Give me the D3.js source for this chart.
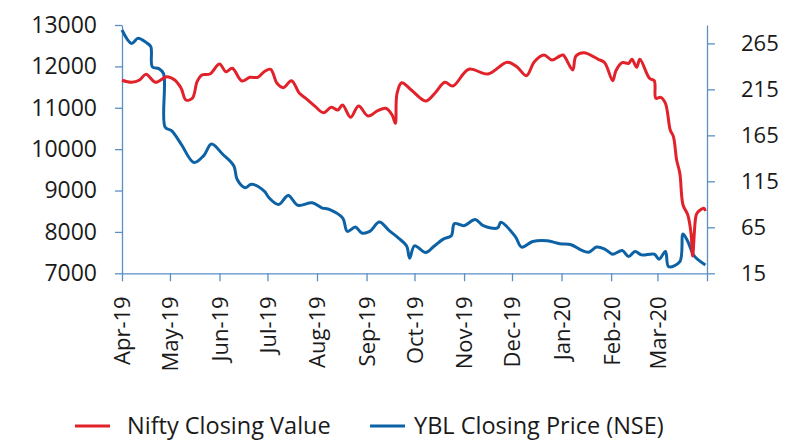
<!DOCTYPE html>
<html>
<head>
<meta charset="utf-8">
<script src="https://cdn.jsdelivr.net/npm/d3@7"></script>
<style>
  html, body { margin: 0; padding: 0; background: #fff; }
  svg { display: block; font-family: "Open Sans", "Noto Sans", sans-serif; }
</style>
</head>
<body>
<svg id="chart" width="786" height="441"></svg>
<script>
// Nifty closing value (left axis)
const niftyDates = ["2019-04-01","2019-04-07","2019-04-12","2019-04-16","2019-04-22","2019-04-29","2019-05-04","2019-05-08","2019-05-11","2019-05-15","2019-05-18","2019-05-21","2019-05-26","2019-06-01","2019-06-05","2019-06-09","2019-06-15","2019-06-20","2019-06-25","2019-06-29","2019-07-03","2019-07-07","2019-07-11","2019-07-16","2019-07-21","2019-07-25","2019-07-31","2019-08-05","2019-08-10","2019-08-14","2019-08-17","2019-08-22","2019-08-27","2019-09-02","2019-09-08","2019-09-13","2019-09-17","2019-09-19","2019-09-20","2019-09-23","2019-09-29","2019-10-08","2019-10-14","2019-10-20","2019-10-25","2019-11-04","2019-11-16","2019-11-28","2019-12-04","2019-12-10","2019-12-15","2019-12-21","2019-12-26","2019-12-31","2020-01-02","2020-01-08","2020-01-10","2020-01-15","2020-01-24","2020-01-28","2020-02-02","2020-02-04","2020-02-08","2020-02-12","2020-02-14","2020-02-17","2020-02-19","2020-02-25","2020-02-28","2020-02-29","2020-03-03","2020-03-06","2020-03-09","2020-03-11","2020-03-13","2020-03-15","2020-03-17","2020-03-20","2020-03-22","2020-03-23","2020-03-25","2020-03-26","2020-03-30","2020-03-31"];
const niftyValues = [11665,11616,11671,11809,11616,11751,11671,11471,11188,11229,11630,11792,11816,12058,11872,11954,11647,11736,11736,11872,11930,11591,11485,11654,11350,11229,11026,10881,11012,10946,11067,10770,11043,10801,10930,10988,10826,10625,11333,11606,11430,11164,11364,11616,11526,11930,11816,12099,11993,11775,12113,12275,12154,12251,12275,11913,12251,12331,12171,12089,11654,11896,12089,12075,12171,11978,12171,11712,11654,11229,11253,11108,10463,10301,9738,9417,8651,8410,7968,7419,8369,8465,8571,8506];

// YBL closing price on NSE (right axis)
const yblDates = ["2019-04-01","2019-04-07","2019-04-11","2019-04-16","2019-04-19","2019-04-20","2019-04-24","2019-04-27","2019-04-28","2019-05-02","2019-05-08","2019-05-16","2019-05-22","2019-05-27","2019-06-03","2019-06-10","2019-06-12","2019-06-17","2019-06-21","2019-06-29","2019-07-02","2019-07-08","2019-07-14","2019-07-20","2019-07-29","2019-08-04","2019-08-09","2019-08-17","2019-08-20","2019-08-25","2019-08-29","2019-09-03","2019-09-09","2019-09-15","2019-09-21","2019-09-26","2019-09-28","2019-10-01","2019-10-08","2019-10-13","2019-10-19","2019-10-24","2019-10-26","2019-11-01","2019-11-08","2019-11-13","2019-11-22","2019-11-24","2019-12-03","2019-12-07","2019-12-14","2019-12-23","2019-12-31","2020-01-07","2020-01-13","2020-01-18","2020-01-23","2020-01-28","2020-02-02","2020-02-08","2020-02-12","2020-02-16","2020-02-20","2020-02-28","2020-03-02","2020-03-06","2020-03-08","2020-03-15","2020-03-17","2020-03-20","2020-03-24","2020-03-31"];
const yblValues = [279.6,265,270.5,266.1,261.4,239.5,237.6,232.1,173.8,170.1,155.5,135.5,142.7,155.5,144.5,131.7,117.2,108.1,111.7,104.4,97.1,89.8,99.6,89,91.7,86.2,84.3,75.2,60.6,65.4,58.8,60.6,70.8,61.6,53.3,44.9,31.4,44.9,37.6,44.1,52.2,55.8,69,66.8,73.4,66.8,64.3,70.4,55.1,43.5,49.6,50.4,47.1,46,40.5,38,43.5,41.3,35.8,39.7,33.2,38.7,35,35.8,30.3,38.7,22.2,27.7,57.7,49.6,33.9,24.1];

const leftTicks = [7000, 8000, 9000, 10000, 11000, 12000, 13000];
const rightTicks = [15, 65, 115, 165, 215, 265];
const seriesNames = ["Nifty Closing Value", "YBL Closing Price (NSE)"];
const seriesColors = ["#e1222b", "#0d62a5"];

const parse = d3.utcParse("%Y-%m-%d");
const nifty = niftyDates.map((d, i) => ({ date: parse(d), value: niftyValues[i] }));
const ybl = yblDates.map((d, i) => ({ date: parse(d), value: yblValues[i] }));

const fontFamily = '"Open Sans", "Noto Sans", sans-serif';
const axisColor = "#5b8fc4";
const svg = d3.select("#chart");

const start = parse("2019-04-01"), end = parse("2020-04-01");
const x = d3.scaleUtc().domain([start, end]).range([122, 707]);
const yL = d3.scaleLinear().domain([7000, 13000]).range([273.3, 25]);
const yR = d3.scaleLinear().domain([15, 285]).range([273.3, 25]);

function styleAxis(size) {
  return g => {
    g.attr("font-family", fontFamily);
    g.select(".domain").attr("stroke", axisColor).attr("stroke-width", 1.3);
    g.selectAll(".tick line").attr("stroke", axisColor).attr("stroke-width", 1.3);
    g.selectAll(".tick text").attr("fill", "#1a1a1a").style("font-size", size + "px");
  };
}

// left axis
svg.append("g").attr("transform", "translate(122,0)")
  .call(d3.axisLeft(yL).tickValues(leftTicks).tickSize(7).tickSizeOuter(0).tickPadding(18).tickFormat(d3.format("d")))
  .call(styleAxis(23));

// right axis
svg.append("g").attr("transform", "translate(707,0)")
  .call(d3.axisRight(yR).tickValues(rightTicks).tickSize(8).tickSizeOuter(0).tickPadding(26).tickFormat(d3.format("d")))
  .call(styleAxis(22));

// bottom axis: monthly ticks, labels rotated
const monthTicks = d3.utcMonth.range(start, d3.utcDay.offset(end, 1));
const fmt = d3.utcFormat("%b-%y");
const xAxis = svg.append("g").attr("transform", "translate(0,273.3)")
  .call(d3.axisBottom(x).tickValues(monthTicks).tickSize(8).tickSizeOuter(0)
    .tickFormat(d => +d < +end ? fmt(d) : ""))
  .call(styleAxis(22));
xAxis.selectAll(".tick text")
  .attr("transform", "rotate(-90)")
  .attr("text-anchor", "end")
  .attr("x", -23)
  .attr("y", 0)
  .attr("dy", "0.36em");

// lines
const lineL = d3.line().x(d => x(d.date)).y(d => yL(d.value)).curve(d3.curveCatmullRom.alpha(0.5));
const lineR = d3.line().x(d => x(d.date)).y(d => yR(d.value)).curve(d3.curveCatmullRom.alpha(0.5));

svg.append("path").datum(ybl)
  .attr("d", lineR).attr("fill", "none")
  .attr("stroke", seriesColors[1]).attr("stroke-width", 3).attr("stroke-linejoin", "round");
svg.append("path").datum(nifty)
  .attr("d", lineL).attr("fill", "none")
  .attr("stroke", seriesColors[0]).attr("stroke-width", 3).attr("stroke-linejoin", "round");

// legend
const legendItems = [
  { name: seriesNames[0], color: seriesColors[0], x: 75, gap: 52 },
  { name: seriesNames[1], color: seriesColors[1], x: 370, gap: 44 }
];
const lg = svg.append("g").selectAll("g").data(legendItems).join("g")
  .attr("transform", d => `translate(${d.x},426)`);
lg.append("line").attr("x1", 0).attr("x2", 35).attr("y1", 0).attr("y2", 0)
  .attr("stroke", d => d.color).attr("stroke-width", 3);
lg.append("text").attr("x", d => d.gap).attr("y", 0).attr("dy", "0.34em")
  .attr("fill", "#1a1a1a").style("font-size", "23.5px").text(d => d.name);
</script>
</body>
</html>
